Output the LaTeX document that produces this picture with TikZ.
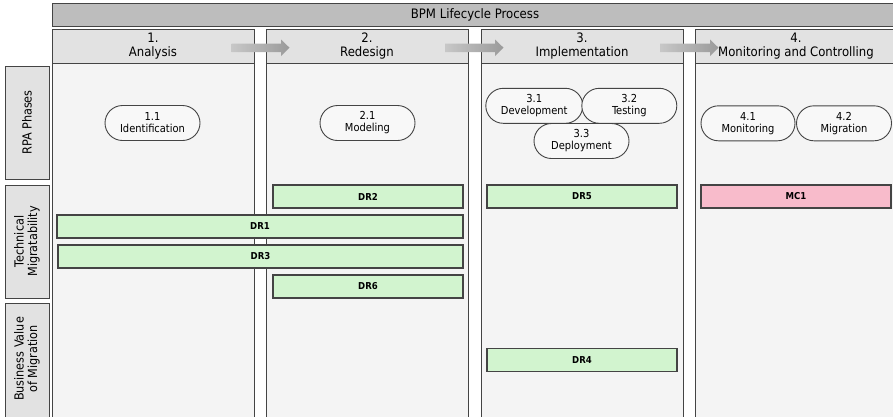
\documentclass[tikz,border=0pt]{standalone}
\usepackage{fontspec}
\setmainfont{DejaVu Sans Condensed}
\usetikzlibrary{shapes.misc}
\definecolor{barfill}{HTML}{BDBDBD}
\definecolor{headfill}{HTML}{E2E2E2}
\definecolor{bodyfill}{HTML}{F4F4F4}
\definecolor{linecol}{HTML}{444444}
\definecolor{drgreen}{HTML}{D2F4CF}
\definecolor{mcpink}{HTML}{F8BBCB}
\definecolor{pillfill}{HTML}{F8F8F8}
\definecolor{arrowcol}{HTML}{9A9A9A}
\begin{document}
\begin{tikzpicture}[x=1pt,y=-1pt,
  frame/.style={draw=linecol, line width=0.9pt, inner sep=0pt, anchor=north west},
  bar/.style={frame, fill=barfill, font=\fontsize{13}{14}\selectfont},
  colhead/.style={frame, fill=headfill, align=center, font=\fontsize{13}{14}\selectfont},
  colbody/.style={frame, fill=bodyfill},
  rowlab/.style={frame, fill=headfill},
  rowtext/.style={rotate=90, align=center, font=\fontsize{12.5}{13.5}\selectfont},
  pill/.style={rounded rectangle, draw=linecol, line width=0.9pt, fill=pillfill, inner sep=0pt,
    minimum height=35pt, align=center, font=\fontsize{11}{12}\selectfont},
  req/.style={draw=linecol, line width=1.2pt, inner sep=0pt, minimum height=23pt,
    font=\bfseries\fontsize{9.5}{10}\selectfont},
  dr/.style={req, fill=drgreen},
  mc/.style={req, fill=mcpink},
  phasearrow/.style={fill=arrowcol, draw=none}
]
\useasboundingbox (0,0) rectangle (893,416);
\begin{scope}
\clip (0,0) rectangle (893,416);
% top bar
\node[bar, minimum width=860pt, minimum height=23pt] (bpm) at (52,3) {};
\node[font=\fontsize{13}{14}\selectfont] (bpmtext) at (475,14.5) {BPM Lifecycle Process};
% column bodies
\node[colbody, minimum width=202pt, minimum height=370pt] (b1) at (52,63) {};
\node[colbody, minimum width=202pt, minimum height=370pt] (b2) at (266,63) {};
\node[colbody, minimum width=202pt, minimum height=370pt] (b3) at (481,63) {};
\node[colbody, minimum width=220pt, minimum height=370pt] (b4) at (695,63) {};
% column headers
\node[colhead, minimum width=202pt, minimum height=34pt] (h1) at (52,29) {};
\node[colhead, minimum width=202pt, minimum height=34pt] (h2) at (266,29) {};
\node[colhead, minimum width=202pt, minimum height=34pt] (h3) at (481,29) {};
\node[colhead, minimum width=220pt, minimum height=34pt] (h4) at (695,29) {};
\node[align=center, font=\fontsize{13}{14}\selectfont] (t1) at (153,46.5) {1.\\Analysis};
\node[align=center, font=\fontsize{13}{14}\selectfont] (t2) at (367,46.5) {2.\\Redesign};
\node[align=center, font=\fontsize{13}{14}\selectfont] (t3) at (582,46.5) {3.\\Implementation};
\node[align=center, font=\fontsize{13}{14}\selectfont] (t4) at (796,46.5) {4.\\Monitoring and Controlling};
% phase arrows
\shade[left color=arrowcol!55, right color=arrowcol] (231.5,43.5) -- (281,43.5) -- (281,39.5) -- (289.5,47.7) -- (281,56) -- (281,52) -- (231.5,52) -- cycle;
\shade[left color=arrowcol!55, right color=arrowcol] (445,43.5) -- (495,43.5) -- (495,39.5) -- (503.5,47.7) -- (495,56) -- (495,52) -- (445,52) -- cycle;
\shade[left color=arrowcol!55, right color=arrowcol] (660,43.5) -- (710,43.5) -- (710,39.5) -- (718.5,47.7) -- (710,56) -- (710,52) -- (660,52) -- cycle;
% row labels
\node[rowlab, minimum width=44pt, minimum height=113pt] (r1) at (5,66) {};
\node[rowlab, minimum width=44pt, minimum height=113pt] (r2) at (5,185) {};
\node[rowlab, minimum width=44pt, minimum height=130pt] (r3) at (5,303) {};
\node[rowtext] (rt1) at (27,122.5) {RPA Phases};
\node[rowtext] (rt2) at (27,241.5) {Technical\\Migratability};
\node[rowtext] (rt3) at (27,359) {Business Value\\of Migration};
% RPA phases
\node[pill, minimum width=95pt] (p11) at (152.5,123) {1.1\\Identification};
\node[pill, minimum width=95pt] (p21) at (367.5,123) {2.1\\Modeling};
\node[pill, minimum width=97pt] (p31) at (534.3,105.8) {3.1\\Development};
\node[pill, minimum width=95pt] (p32) at (629.3,105.8) {3.2\\Testing};
\node[pill, minimum width=95pt] (p33) at (581.5,141) {3.3\\Deployment};
\node[pill, minimum width=94pt] (p41) at (748,123.3) {4.1\\Monitoring};
\node[pill, minimum width=95pt] (p42) at (844,123.3) {4.2\\Migration};
% requirements
\node[dr, minimum width=190pt] (dr2) at (368,196.5) {DR2};
\node[dr, minimum width=406pt] (dr1) at (260,226.5) {DR1};
\node[dr, minimum width=405pt] (dr3) at (260.5,256.5) {DR3};
\node[dr, minimum width=190pt] (dr6) at (368,286.5) {DR6};
\node[dr, minimum width=190pt] (dr5) at (582,196.5) {DR5};
\node[mc, minimum width=190pt] (mc1) at (796,196.5) {MC1};
\node[dr, minimum width=190pt] (dr4) at (582,360) {DR4};
\end{scope}
\end{tikzpicture}
\end{document}
